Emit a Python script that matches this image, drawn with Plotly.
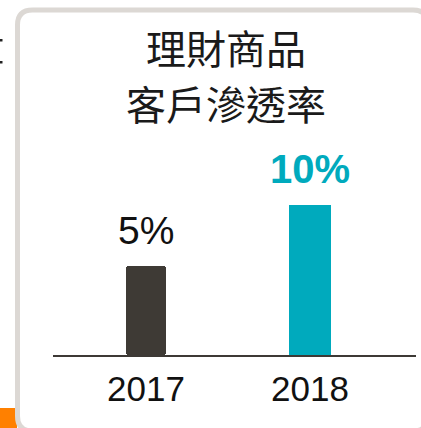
import plotly.graph_objects as go

W, H = 421, 428

# ---- data ----
categories = ["2017", "2018"]
values = [5, 10]
value_labels = ["5%", "10%"]
title_lines = ["理財商品", "客戶滲透率"]
bar_colors = ["#3e3a35", "#00aabd"]

# ---- style constants ----
BASE = -2.3          # visual baseline of the infographic bars
LATIN = "Liberation Sans, Arial, sans-serif"
CJK = "Noto Sans CJK TC, Noto Sans CJK SC, sans-serif"


def px(x):
    return x / W


def py(y):
    return 1 - y / H


fig = go.Figure()
fig.add_trace(go.Bar(
    x=categories,
    y=[v - BASE for v in values],
    base=BASE,
    width=[0.24, 0.26],
    marker=dict(color=bar_colors, line=dict(width=0), cornerradius=2),
    hoverinfo="skip",
))

shapes = []
# orange block peeking out bottom-left
shapes.append(dict(type="rect", xref="paper", yref="paper",
                   x0=px(0), x1=px(17), y0=py(408), y1=py(430),
                   fillcolor="#ff8000", line=dict(width=0), layer="below"))
# card with rounded corners
x0, y0, x1, y1, r = 17.5, 10, 428, 431, 15
path = (f"M {px(x0)},{py(y0 + r)} "
        f"Q {px(x0)},{py(y0)} {px(x0 + r)},{py(y0)} "
        f"L {px(x1 - r)},{py(y0)} "
        f"Q {px(x1)},{py(y0)} {px(x1)},{py(y0 + r)} "
        f"L {px(x1)},{py(y1 - r)} "
        f"Q {px(x1)},{py(y1)} {px(x1 - r)},{py(y1)} "
        f"L {px(x0 + r)},{py(y1)} "
        f"Q {px(x0)},{py(y1)} {px(x0)},{py(y1 - r)} Z")
shapes.append(dict(type="path", xref="paper", yref="paper", path=path,
                   fillcolor="white", line=dict(color="#dcd8d4", width=5),
                   layer="below"))
# tiny remnants of text cut off at the left edge
for yy in (39, 61):
    shapes.append(dict(type="rect", xref="paper", yref="paper",
                       x0=px(0), x1=px(2.5), y0=py(yy), y1=py(yy + 2.5),
                       fillcolor="#222222", line=dict(width=0), layer="below"))

annotations = []
# title
for line, yc in zip(title_lines, (47, 103)):
    annotations.append(dict(text=line, xref="paper", yref="paper",
                            x=px(226), y=py(yc), xanchor="center", yanchor="middle",
                            showarrow=False,
                            font=dict(family=CJK, size=40, color="#1a1a1a")))
# value labels
label_fonts = [
    dict(family=LATIN, size=39, color="#111111"),
    dict(family=LATIN, size=40, color="#00aabd", weight="bold"),
]
for i, (v, lab, f) in enumerate(zip(values, value_labels, label_fonts)):
    annotations.append(dict(text=lab, x=i, y=v, xref="x", yref="y",
                            xanchor="center", yanchor="bottom", showarrow=False,
                            yshift=12, font=f))

fig.update_layout(
    width=W, height=H,
    margin=dict(l=0, r=0, t=0, b=0),
    paper_bgcolor="white", plot_bgcolor="rgba(0,0,0,0)",
    showlegend=False,
    shapes=shapes,
    annotations=annotations,
    bargap=0,
    xaxis=dict(domain=[px(53), px(416)], range=[-0.567, 1.646],
               type="category", showgrid=False, zeroline=False,
               showline=True, linecolor="#3d3935", linewidth=2,
               ticks="", tickfont=dict(family=LATIN, size=35, color="#111111"),
               ticklabelstandoff=2, fixedrange=True),
    yaxis=dict(domain=[py(355), py(140)], range=[BASE, BASE + 215 / 12.2],
               visible=False, fixedrange=True),
)

fig.write_html("out.html",
               config={"displayModeBar": False, "staticPlot": True},
               post_script="document.body.style.margin='0px';"
                           "document.body.style.overflow='hidden';")
